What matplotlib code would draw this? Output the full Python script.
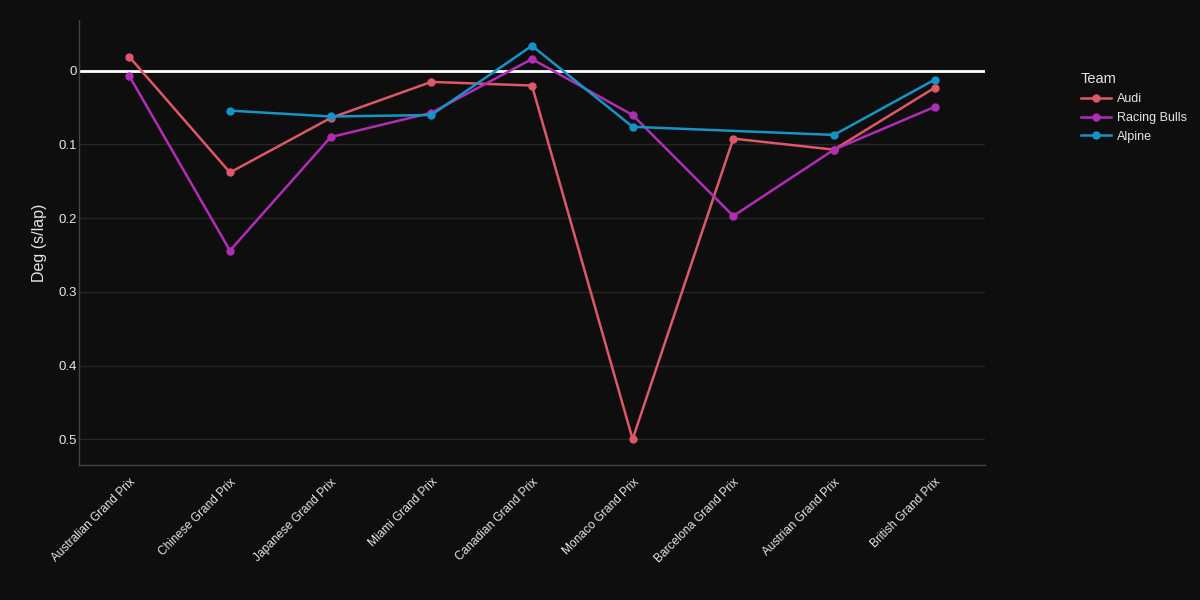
import numpy as np
import matplotlib.pyplot as plt

plt.rcParams['font.family'] = ['Liberation Sans', 'DejaVu Sans']

races = ['Australian Grand Prix', 'Chinese Grand Prix', 'Japanese Grand Prix',
         'Miami Grand Prix', 'Canadian Grand Prix', 'Monaco Grand Prix',
         'Barcelona Grand Prix', 'Austrian Grand Prix', 'British Grand Prix']

nan = np.nan
audi = [-0.019, 0.138, 0.064, 0.015, 0.020, 0.500, 0.092, 0.107, 0.023]
racing_bulls = [0.007, 0.244, 0.090, 0.057, -0.016, 0.060, 0.197, 0.107, 0.049]
alpine = [nan, 0.054, 0.062, 0.060, -0.034, 0.076, nan, 0.087, 0.012]

teams = ['Audi', 'Racing Bulls', 'Alpine']
series = [audi, racing_bulls, alpine]
colors = ['#de5868', '#b12db6', '#1794c6']

bg = '#0e0e0e'
txt = '#e6e6e6'
fig = plt.figure(figsize=(12, 6), dpi=100, facecolor=bg)
ax = fig.add_axes([0.0658, 0.225, 0.755, 0.7417], facecolor=bg)

x = np.arange(len(races))
for name, vals, c in zip(teams, series, colors):
    v = np.array(vals, dtype=float)
    ok = ~np.isnan(v)  # missing races are skipped, line joins neighbours
    ax.plot(x[ok], v[ok], color=c, lw=1.8, marker='o', ms=5, label=name, zorder=3)

ax.axhline(0, color='white', lw=2, zorder=2)

ax.set_xlim(-0.5, len(races) - 0.5)
ax.set_ylim(0.535, -0.069)
ax.set_yticks([0, 0.1, 0.2, 0.3, 0.4, 0.5])
ax.set_yticklabels(['0', '0.1', '0.2', '0.3', '0.4', '0.5'])
ax.set_xticks(x)
ax.set_xticklabels(races, rotation=45, ha='right', rotation_mode='anchor')
ax.grid(axis='y', color='#262626', lw=1, zorder=0)
ax.tick_params(length=0, colors=txt, labelsize=8.6)
ax.tick_params(axis='x', pad=8)
ax.tick_params(axis='y', pad=1.5, labelsize=9.5)

for s in ['top', 'right']:
    ax.spines[s].set_visible(False)
for s in ['left', 'bottom']:
    ax.spines[s].set_color('#444444')
    ax.spines[s].set_linewidth(1)

ax.set_ylabel('Deg (s/lap)', color=txt, fontsize=11.5, labelpad=8)

leg = ax.legend(title='Team', loc='upper left', bbox_to_anchor=(1.1, 0.894),
                frameon=False, fontsize=9, title_fontsize=10.5,
                handlelength=2.4, handletextpad=0.5, labelspacing=0.55,
                alignment='left', borderaxespad=0)
for t in leg.get_texts():
    t.set_color(txt)
leg.get_title().set_color(txt)

fig.savefig('out.png', facecolor=bg)
